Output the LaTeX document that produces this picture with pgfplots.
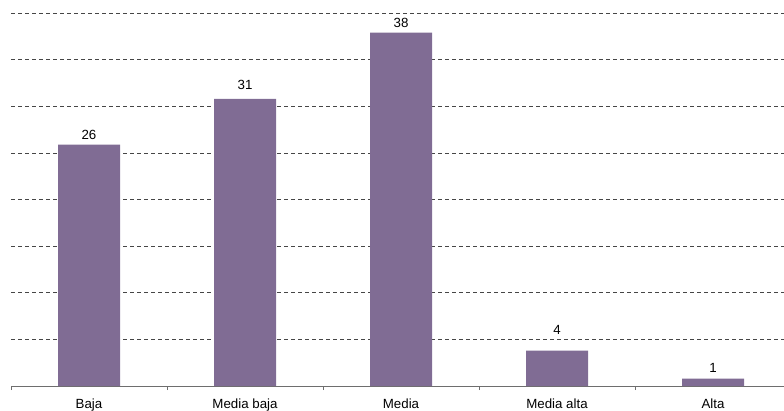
\documentclass[border=0pt]{standalone}
\usepackage{pgfplots}
\usepackage{pgfplotstable}
\pgfplotsset{compat=1.18}
\usepackage{fontspec}
\setmainfont{Liberation Sans}
\definecolor{barc}{RGB}{128,108,148}
\definecolor{gridc}{RGB}{70,70,70}
\definecolor{axc}{RGB}{110,110,110}
\pgfplotstableread{
x y lab off
0 25.9 26 4.7
1 30.8 31 9
2 37.9 38 5.5
3 3.8 4 16
4 0.8 1 6
}\datatab
\begin{document}
\begin{tikzpicture}
\begin{axis}[
  scale only axis,
  width=780pt, height=386pt,
  xmin=-0.5, xmax=4.5,
  ymin=0, ymax=41.4,
  axis x line*=bottom, axis y line*=left,
  x axis line style={axc, line width=0.8pt, -},
  y axis line style={draw=none},
  xtick={-0.5,0.5,...,4.5},
  x tick label as interval,
  xticklabels={Baja, Media baja, Media, Media alta, Alta},
  major x tick style={axc, line width=0.8pt},
  major tick length=4pt,
  tick align=outside,
  ytick={5,10,...,40},
  yticklabels={},
  major y tick style={draw=none},
  /pgf/number format/assume math mode=true,
  tick label style={font=\fontsize{13.3}{15}\selectfont},
  xticklabel style={anchor=base, yshift=-18pt},
  ymajorgrids,
  major grid style={gridc, dash pattern=on 4pt off 3pt, line width=0.7pt},
  ybar, bar width=62pt,
  clip=false,
]
\addplot[fill=barc, draw=none,
  nodes near coords,
  point meta=explicit symbolic,
  visualization depends on={\thisrow{off}\as\myoff},
  every node near coord/.append style={font=\fontsize{13.3}{15}\selectfont, black, anchor=base, yshift=\myoff pt, inner sep=0pt},
] table[x=x, y=y, meta=lab] {\datatab};
\end{axis}
\pgfresetboundingbox
\path (-11pt,-24pt) rectangle (773pt,386pt);
\end{tikzpicture}
\end{document}
